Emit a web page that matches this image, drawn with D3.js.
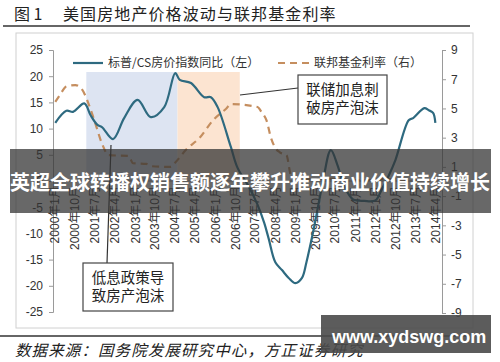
<!DOCTYPE html>
<html>
<head>
<meta charset="utf-8">
<script src="https://cdn.jsdelivr.net/npm/d3@7"></script>
<style>
  html, body { margin: 0; padding: 0; background: #fff; }
  svg { display: block; }
  text { font-family: "Liberation Sans", "Noto Sans CJK SC", sans-serif; }
  .cjk { font-family: "Noto Sans CJK SC", sans-serif; }
</style>
</head>
<body>
<div id="grafico"></div>
<script>
// dados
const hpiMonths = ["2000-01","2000-06","2000-09","2001-02","2001-05","2001-08","2001-10","2002-03","2002-08","2003-02",
  "2003-08","2004-02","2004-07","2004-09","2005-02","2005-08","2005-11","2006-02","2006-08","2006-11",
  "2007-04","2007-08","2007-11","2008-01","2008-04","2008-07","2008-10","2009-01","2009-04","2009-06",
  "2009-09","2010-01","2010-05","2010-08","2010-11","2011-03","2011-08","2012-01","2012-04","2012-07",
  "2012-10","2013-04","2013-06","2013-11","2014-01","2014-03","2014-04"];
const hpiValues = [11.1,13.4,13.2,14.8,12.5,10.7,10.3,8.0,12.0,15.5,
  12.2,14.1,20.6,19.3,18.7,16.0,16.0,14.1,6.5,2.5,
  -1,-4.5,-8,-11,-15.5,-17,-18.5,-19.5,-18.5,-15.5,
  -9.7,-1,5.9,3,-1,-3.5,-3.8,-3.7,-1.5,1,
  4,11.6,12,13.9,13.5,13,11.1];

const ffMonths = ["2000-01","2000-03","2000-06","2000-10","2001-01","2001-05","2001-07","2001-10","2002-01","2002-10",
  "2002-12","2003-06","2003-08","2004-05","2004-07","2004-12","2005-06","2005-12","2006-06","2006-08",
  "2007-08","2007-10","2007-12","2008-02","2008-04","2008-06","2008-09","2008-11","2009-01","2010-06",
  "2011-06","2012-06","2013-06","2014-04"];
const ffValues = [5.45,5.9,6.5,6.6,6.3,4.9,4.0,2.6,1.8,1.75,
  1.25,1.2,1.05,1.0,1.3,2.2,3.0,4.2,5.0,5.3,
  5.1,4.7,4.2,3.0,2.3,2.0,1.8,0.4,0.15,0.18,
  0.09,0.16,0.09,0.09];

const xTickMonths = ["2000-01","2000-10","2001-07","2002-04","2003-01","2003-10","2004-07","2005-04","2006-01","2006-10",
  "2007-07","2008-04","2009-01","2009-10","2010-07","2011-04","2012-01","2012-10","2013-07","2014-04"];
const leftTicks = [-25,-20,-15,-10,-5,0,5,10,15,20,25];
const rightTicks = [-9,-7,-5,-3,-1,1,3,5,7,9];

// períodos sombreados
const shadeStart = ["2001-03","2004-08"];
const shadeEnd   = ["2004-08","2006-12"];

const W = 500, H = 362;
const parse = d3.timeParse("%Y-%m");
const fmtTick = d => d3.timeFormat("%Y")(d) + "年" + (d.getMonth() + 1) + "月";

const svg = d3.select("#grafico").append("svg")
  .attr("width", W).attr("height", H);

// escalas
const x = d3.scaleTime()
  .domain([parse("1999-12"), parse("2014-07")])
  .range([53, 442]);
const yL = d3.scaleLinear().domain([-25, 25]).range([312, 50]);
const yR = d3.scaleLinear().domain([-9, 9]).range([313, 50]);

// título
svg.append("text").attr("class", "cjk")
  .attr("x", 14).attr("y", 20)
  .attr("font-size", 16).attr("fill", "#222")
  .text("图 1");
svg.append("text").attr("class", "cjk")
  .attr("x", 63).attr("y", 20)
  .attr("font-size", 16).attr("letter-spacing", 1.1)
  .attr("fill", "#222")
  .text("美国房地产价格波动与联邦基金利率");
svg.append("line")
  .attr("x1", 3).attr("x2", 470).attr("y1", 26).attr("y2", 26)
  .attr("stroke", "#333").attr("stroke-width", 1.5);

// moldura
svg.append("rect")
  .attr("x", 16).attr("y", 33).attr("width", 457).attr("height", 295)
  .attr("fill", "none").attr("stroke", "#d0d0d0");

// sombreamento
const shadeColors = ["#dde4f2", "#fce4d1"];
svg.selectAll("rect.shade")
  .data(shadeStart.map((s, i) => ({ s: parse(s), e: parse(shadeEnd[i]), c: shadeColors[i] })))
  .enter().append("rect")
  .attr("class", "shade")
  .attr("x", d => x(d.s))
  .attr("width", d => x(d.e) - x(d.s))
  .attr("y", yL(20.8))
  .attr("height", yL(0) - yL(20.8))
  .attr("fill", d => d.c);

// eixos
const axL = svg.append("g").attr("transform", `translate(${x.range()[0]},0)`)
  .call(d3.axisLeft(yL).tickValues(leftTicks).tickSize(4).tickPadding(6));
const axR = svg.append("g").attr("transform", `translate(${x.range()[1]},0)`)
  .call(d3.axisRight(yR).tickValues(rightTicks).tickSize(4).tickPadding(5).tickFormat(d3.format("d")));
[axL, axR].forEach(g => {
  g.selectAll("path, line").attr("stroke", "#9a9a9a");
  g.selectAll("text").attr("font-size", 12).attr("fill", "#333")
    .attr("font-family", "Liberation Sans, sans-serif")
    .text(d => d < 0 ? "-" + Math.abs(d) : d);
});

// eixo x em zero
svg.append("line")
  .attr("x1", x.range()[0]).attr("x2", x.range()[1])
  .attr("y1", yL(0)).attr("y2", yL(0))
  .attr("stroke", "#9a9a9a");
svg.selectAll("text.xtick")
  .data(xTickMonths.map(parse))
  .enter().append("text")
  .attr("class", "xtick")
  .attr("transform", d => `translate(${x(d)},${yL(0) + 5}) rotate(-90)`)
  .attr("text-anchor", "end")
  .attr("dy", "0.35em")
  .attr("font-size", 12)
  .attr("fill", "#333")
  .text(fmtTick);

// linhas
const hpi = hpiMonths.map((m, i) => ({ d: parse(m), v: hpiValues[i] }));
const ff = ffMonths.map((m, i) => ({ d: parse(m), v: ffValues[i] }));

svg.append("path").datum(ff)
  .attr("fill", "none")
  .attr("stroke", "#c58e5f").attr("stroke-width", 2.2)
  .attr("stroke-dasharray", "7,5")
  .attr("d", d3.line().x(d => x(d.d)).y(d => yR(d.v)).curve(d3.curveMonotoneX));

svg.append("path").datum(hpi)
  .attr("fill", "none")
  .attr("stroke", "#2e6a80").attr("stroke-width", 2.2)
  .attr("d", d3.line().x(d => x(d.d)).y(d => yL(d.v)).curve(d3.curveCatmullRom.alpha(0.5)));

// legenda
const leg = svg.append("g").attr("font-size", 12).attr("fill", "#333");
leg.append("line").attr("x1", 73).attr("x2", 103).attr("y1", 63).attr("y2", 63)
  .attr("stroke", "#2e6a80").attr("stroke-width", 2.2);
leg.append("text").attr("class", "cjk").attr("x", 108).attr("y", 67).attr("fill", "#333")
  .text("标普/CS房价指数同比（左）");
leg.append("line").attr("x1", 278).attr("x2", 310).attr("y1", 63).attr("y2", 63)
  .attr("stroke", "#c58e5f").attr("stroke-width", 2.2).attr("stroke-dasharray", "7,5");
leg.append("text").attr("class", "cjk").attr("x", 314).attr("y", 67).attr("fill", "#333")
  .text("联邦基金利率（右）");

// anotações
const notas = [
  { box: [298, 75, 89, 49], lines: ["联储加息刺", "破房产泡沫"], from: [298, 88], to: [240, 95] },
  { box: [83, 263, 90, 48], lines: ["低息政策导", "致房产泡沫"], from: [107, 263], to: [111, 145] }
];
notas.forEach(n => {
  svg.append("line")
    .attr("x1", n.from[0]).attr("y1", n.from[1]).attr("x2", n.to[0]).attr("y2", n.to[1])
    .attr("stroke", "#333").attr("stroke-width", 1.2);
  svg.append("rect")
    .attr("x", n.box[0]).attr("y", n.box[1]).attr("width", n.box[2]).attr("height", n.box[3])
    .attr("fill", "#fff").attr("stroke", "#444").attr("stroke-width", 1.2);
  n.lines.forEach((t, i) => {
    svg.append("text").attr("class", "cjk")
      .attr("x", n.box[0] + n.box[2] / 2)
      .attr("y", n.box[1] + 20 + i * 18)
      .attr("text-anchor", "middle")
      .attr("font-size", 14.5).attr("fill", "#222")
      .text(t);
  });
});

// fonte
svg.append("line")
  .attr("x1", 0).attr("x2", 470).attr("y1", 336).attr("y2", 336)
  .attr("stroke", "#333").attr("stroke-width", 1.3);
svg.append("text").attr("class", "cjk")
  .attr("x", 15).attr("y", 356)
  .attr("font-size", 15.5).attr("font-style", "italic").attr("fill", "#222")
  .attr("letter-spacing", 1.1)
  .text("数据来源：国务院发展研究中心，方正证券研究");

// faixa sobreposta
svg.append("rect")
  .attr("x", 10).attr("y", 149).attr("width", 481).attr("height", 64)
  .attr("fill", "#333").attr("opacity", 0.74);
svg.append("text").attr("class", "cjk")
  .attr("x", 250).attr("y", 183).attr("dy", "0.35em")
  .attr("text-anchor", "middle")
  .attr("font-size", 20).attr("font-weight", "bold").attr("fill", "#fff")
  .text("英超全球转播权销售额逐年攀升推动商业价值持续增长");

// marca d'água
svg.append("rect")
  .attr("x", 321).attr("y", 315).attr("width", 170).attr("height", 38)
  .attr("fill", "#4a4a4a").attr("opacity", 0.9);
svg.append("text")
  .attr("x", 332).attr("y", 337).attr("dy", "0.35em")
  .attr("font-family", "Noto Sans, sans-serif")
  .attr("font-size", 18).attr("font-weight", "bold").attr("fill", "#fff")
  .text("www.xydswg.com");
</script>
</body>
</html>
